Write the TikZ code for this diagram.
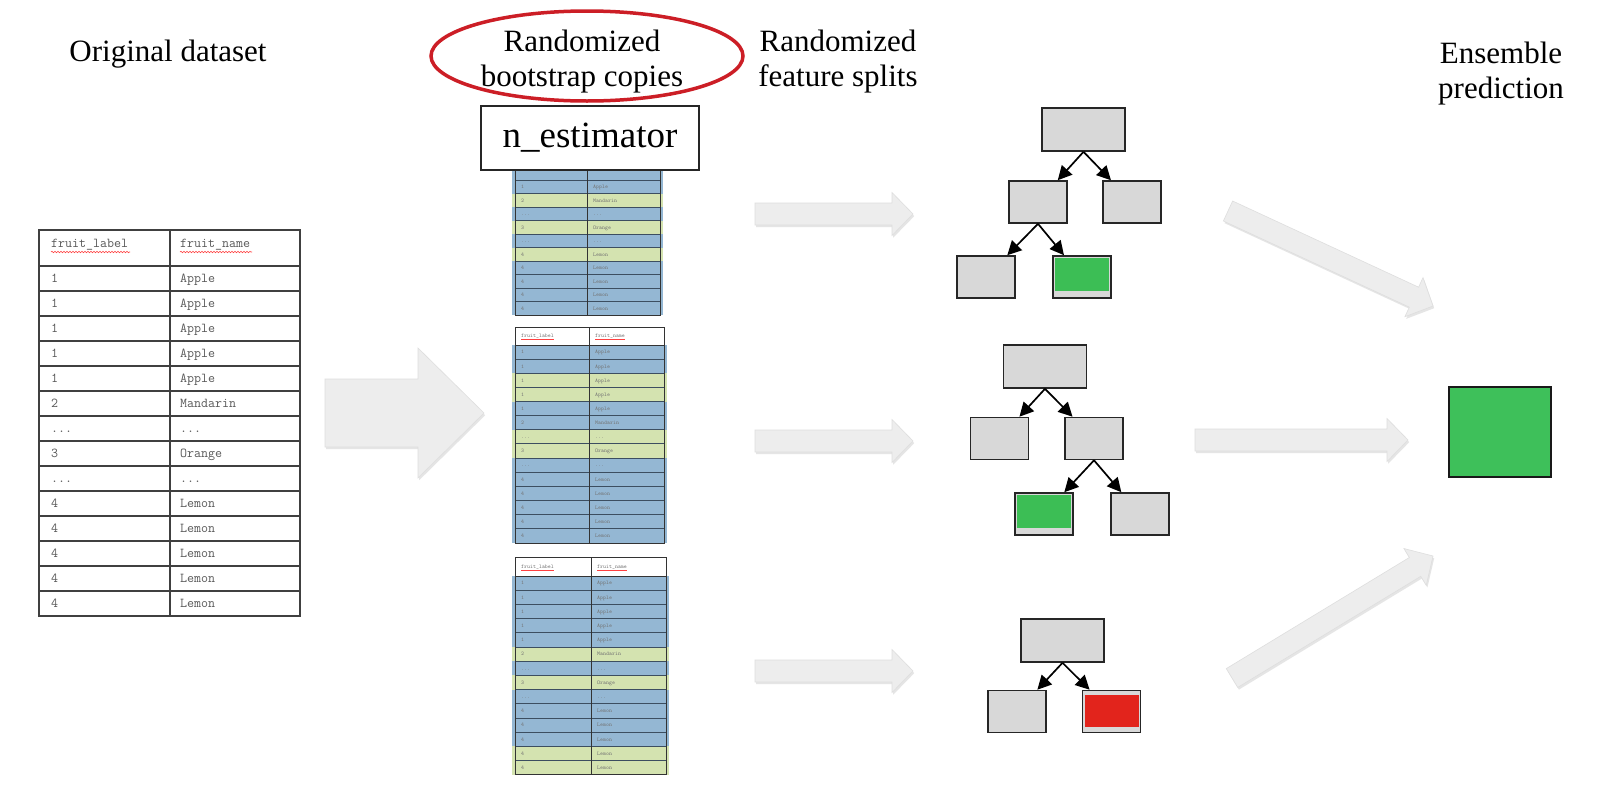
\documentclass[tikz,border=0pt]{standalone}
\usepackage{fontspec}
\setmainfont{Liberation Serif}
\newfontfamily\monof{Liberation Mono}
\usetikzlibrary{calc,arrows.meta,shadows,decorations.pathmorphing}
\definecolor{rowB}{RGB}{148,183,211}
\definecolor{rowG}{RGB}{212,227,176}
\definecolor{rowline}{RGB}{60,78,96}
\definecolor{boxgray}{RGB}{216,216,216}
\definecolor{leafgreen}{RGB}{60,190,85}
\definecolor{leafred}{RGB}{226,36,28}
\definecolor{ensgreen}{RGB}{62,192,90}
\definecolor{arrgray}{RGB}{237,237,237}
\definecolor{ellred}{RGB}{204,30,38}
\newcommand{\ddd}{...}
\tikzset{
 title/.style={font=\fontsize{31}{35}\selectfont, align=center, inner sep=0pt},
 tbox/.style={draw=black!85, line width=1.6pt, fill=boxgray, inner sep=0pt, minimum width=58pt, minimum height=42pt},
 troot/.style={tbox, minimum width=83pt, minimum height=43pt},
 tarrow/.style={line width=1.7pt, -{Triangle[length=14pt,width=14pt]}},
 blockarr/.style={fill=arrgray, draw=black!13, line width=0.6pt, drop shadow={shadow xshift=1.2pt, shadow yshift=-2.2pt, opacity=0.22, fill=black!45}},
 bigtext/.style={font=\ttfamily\fontsize{13.6}{13.6}\selectfont, text=black!65, anchor=base west, inner sep=0pt},
 minitext/.style={font=\ttfamily\fontsize{5.6}{5.6}\selectfont, text=black!55, anchor=base west, inner sep=0pt},
 squig/.style={draw=red!75, line width=0.6pt, decorate, decoration={snake, amplitude=0.7pt, segment length=3pt}},
 tline/.style={draw=black!75, line width=1.2pt},
 mline/.style={draw=black!80, line width=0.9pt},
}
% #1 tail, #2 tip, #3 half body, #4 half head, #5 head length
\newcommand{\blockarrow}[5]{%
  \coordinate (#2-h) at ($(#2)!#5!(#1)$);
  \path[blockarr] ($(#1)!#3!90:(#2)$) -- ($(#2-h)!#3!90:(#2)$) -- ($(#2-h)!#4!90:(#2)$) -- (#2)
     -- ($(#2-h)!#4!-90:(#2)$) -- ($(#2-h)!#3!-90:(#2)$) -- ($(#1)!#3!-90:(#2)$) -- cycle;
}
% #1 x0, #2 xm, #3 x1, #4 ytop, #5 header h, #6 row h, #7 colours, #8 prefix, #9 first row with text
\newcommand{\minitable}[9]{%
  \fill[white] (#1,#4) rectangle (#3,{#4+#5});
  \foreach \c [count=\i] in {#7}{
    \fill[\c] ({#1-3},{#4+#5+(\i-1)*#6}) rectangle ({#3+3},{#4+#5+\i*#6});
  }
  \foreach \i in {1,...,13}{\draw[draw=rowline, line width=1pt] (#1,{#4+#5+\i*#6}) -- (#3,{#4+#5+\i*#6});}
  \draw[mline] (#1,#4) rectangle (#3,{#4+#5+14*#6});
  \draw[mline] (#2,#4) -- (#2,{#4+#5+14*#6});
  \draw[mline] (#1,{#4+#5}) -- (#3,{#4+#5});
  \ifnum#9=1
  \node[minitext] (#8h1) at ({#1+6},{#4+#5/2+1.5}) {fruit\_label};
  \node[minitext] (#8h2) at ({#2+6},{#4+#5/2+1.5}) {fruit\_name};
  \draw[draw=red!75, line width=0.5pt] (#8h1.base west) ++(0,2) -- ++(33,0);
  \draw[draw=red!75, line width=0.5pt] (#8h2.base west) ++(0,2) -- ++(30,0);
  \fi
  \foreach \l/\n [count=\i] in {1/Apple,1/Apple,1/Apple,1/Apple,1/Apple,2/Mandarin,\ddd/\ddd,3/Orange,\ddd/\ddd,4/Lemon,4/Lemon,4/Lemon,4/Lemon,4/Lemon}{
    \ifnum\i<#9\relax\else
    \node[minitext] (#8l\i) at ({#1+6},{#4+#5+(\i-0.5)*#6+1.8}) {\l};
    \node[minitext] (#8n\i) at ({#2+6},{#4+#5+(\i-0.5)*#6+1.8}) {\n};
    \fi
  }
}
\begin{document}
\begin{tikzpicture}[x=1pt,y=-1pt]
\useasboundingbox (0,0) rectangle (1614,798);
\fill[white] (0,0) rectangle (1614,798);

% titles
\node[title] (t1) at (168,54) {Original dataset};
\node[title] (t2) at (582,62) {Randomized\\bootstrap copies};
\node[title] (t3) at (838,62) {Randomized\\feature splits};
\node[title] (t4) at (1501,74) {Ensemble\\prediction};
\draw[ellred, line width=3.5pt] (587,56) ellipse [x radius=156pt, y radius=45pt];

% original table
\draw[tline] (39,230) rectangle (300,616);
\draw[tline] (170,230) -- (170,616);
\foreach \i in {0,...,13}{\draw[tline] (39,{266+25*\i}) -- (300,{266+25*\i});}
\node[bigtext] (oh1) at (51,247) {fruit\_label};
\node[bigtext] (oh2) at (180,247) {fruit\_name};
\draw[squig] (51,252) -- (130,252);
\draw[squig] (180,252) -- (252,252);
\foreach \l/\n [count=\i] in {1/Apple,1/Apple,1/Apple,1/Apple,1/Apple,2/Mandarin,\ddd/\ddd,3/Orange,\ddd/\ddd,4/Lemon,4/Lemon,4/Lemon,4/Lemon,4/Lemon}{
  \node[bigtext] (ol\i) at (51,{266+25*\i-8.5}) {\l};
  \node[bigtext] (on\i) at (180,{266+25*\i-8.5}) {\n};
}

% bootstrap copies
\minitable{515}{587}{660}{107}{19}{13.5}{rowB,rowB,rowB,rowB,rowB,rowG,rowB,rowG,rowB,rowG,rowB,rowB,rowB,rowB}{ta}{5}
\minitable{515}{589}{664}{327}{18}{14.14}{rowB,rowB,rowG,rowG,rowB,rowB,rowG,rowG,rowB,rowB,rowB,rowB,rowB,rowB}{tb}{1}
\minitable{515}{591}{666}{557}{19}{14.2}{rowB,rowB,rowB,rowB,rowB,rowG,rowB,rowG,rowB,rowB,rowB,rowB,rowG,rowG}{tc}{1}

\node[draw=black!85, line width=1.5pt, fill=white, minimum width=218pt, minimum height=64pt, inner sep=0pt,
      font=\fontsize{37}{37}\selectfont] (nest) at (590,138) {n\_estimator};

% block arrows
\coordinate (bigA) at (325,413); \coordinate (bigB) at (484,413);
\blockarrow{bigA}{bigB}{34pt}{65pt}{66pt}
\coordinate (s1a) at (755,214); \coordinate (s1b) at (913,214);
\coordinate (s2a) at (755,441); \coordinate (s2b) at (913,441);
\coordinate (s3a) at (755,671); \coordinate (s3b) at (913,671);
\blockarrow{s1a}{s1b}{11pt}{21.5pt}{21pt}
\blockarrow{s2a}{s2b}{11pt}{21.5pt}{21pt}
\blockarrow{s3a}{s3b}{11pt}{21.5pt}{21pt}
\coordinate (e1a) at (1228,211); \coordinate (e1b) at (1433,306);
\coordinate (e2a) at (1195,440); \coordinate (e2b) at (1408,440);
\coordinate (e3a) at (1232,678); \coordinate (e3b) at (1433,556);
\blockarrow{e1a}{e1b}{11pt}{21.5pt}{21pt}
\blockarrow{e2a}{e2b}{11pt}{21.5pt}{21pt}
\blockarrow{e3a}{e3b}{11pt}{21.5pt}{21pt}

% tree 1
\node[troot] (r1) at (1083.5,129.5) {};
\node[tbox] (r1l) at (1038,202) {};
\node[tbox] (r1r) at (1132,202) {};
\node[tbox] (r1ll) at (986,277) {};
\node[tbox] (r1lr) at (1082,277) {};
\fill[leafgreen] ($(r1lr.north west)+(3,2.5)$) rectangle ($(r1lr.south east)+(-2.5,-8)$);
\draw[tarrow] (r1.south) -- (r1l);
\draw[tarrow] (r1.south) -- (r1r);
\draw[tarrow] (r1l.south) -- (r1ll);
\draw[tarrow] (r1l.south) -- (r1lr);

% tree 2
\node[troot] (r2) at (1045,366.5) {};
\node[tbox] (r2l) at (999.5,438.5) {};
\node[tbox] (r2r) at (1094,438.5) {};
\node[tbox] (r2rl) at (1044,514) {};
\node[tbox] (r2rr) at (1140,514) {};
\fill[leafgreen] ($(r2rl.north west)+(3,2.5)$) rectangle ($(r2rl.south east)+(-2.5,-8)$);
\draw[tarrow] (r2.south) -- (r2l);
\draw[tarrow] (r2.south) -- (r2r);
\draw[tarrow] (r2r.south) -- (r2rl);
\draw[tarrow] (r2r.south) -- (r2rr);

% tree 3
\node[troot] (r3) at (1062.5,640.5) {};
\node[tbox] (r3l) at (1017,711.5) {};
\node[tbox] (r3r) at (1111.5,711.5) {};
\fill[leafred] ($(r3r.north west)+(3,5)$) rectangle ($(r3r.south east)+(-2.5,-6)$);
\draw[tarrow] (r3.south) -- (r3l);
\draw[tarrow] (r3.south) -- (r3r);

% ensemble
\node[draw=black!90, line width=2pt, fill=ensgreen, minimum width=102pt, minimum height=90pt, inner sep=0pt] (ens) at (1500,432) {};
\end{tikzpicture}
\end{document}
